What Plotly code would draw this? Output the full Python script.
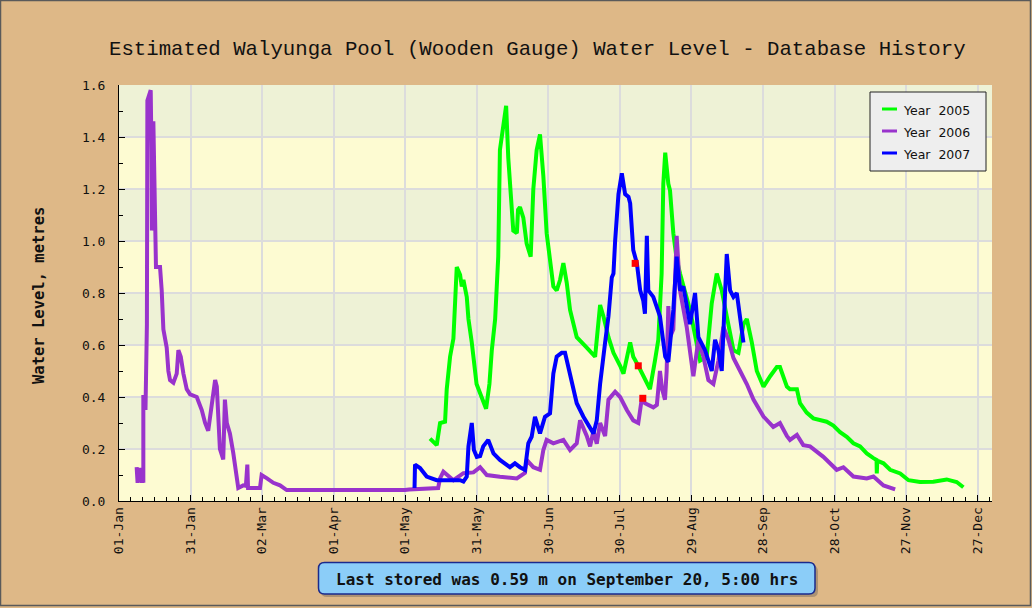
import plotly.graph_objects as go

# ---------------- data (day of year from 01-Jan, level in metres) ----------------
tick_days = [0, 30, 60, 90, 120, 150, 180, 210, 240, 270, 300, 330, 360]
tick_labels = ["01-Jan", "31-Jan", "02-Mar", "01-Apr", "01-May", "31-May", "30-Jun",
               "30-Jul", "29-Aug", "28-Sep", "28-Oct", "27-Nov", "27-Dec"]

series_names = ["Year 2005", "Year 2006", "Year 2007"]
series_colors = ["#00FF00", "#9933CC", "#0000FF"]

days_2005 = [130.4, 133.2, 134.6, 136.7, 137.4, 138.8, 140.2, 140.9, 141.6, 143.0, 143.7, 144.4,
             145.8, 146.5, 147.9, 149.9, 151.4, 153.9, 155.3, 156.3, 157.7, 159.0, 159.7, 161.4,
             162.3, 163.2, 164.0, 165.3, 166.8, 167.3, 168.1, 169.5, 170.9, 172.6, 173.7, 175.1,
             176.5, 177.9, 179.3, 180.7, 182.1, 183.5, 184.9, 186.3, 187.7, 189.1, 191.9, 196.1,
             199.6, 201.7, 203.1, 205.2, 207.3, 210.1, 211.5, 214.3, 215.6, 217.7, 220.5, 222.6,
             224.7, 226.1, 227.5, 228.2, 229.0, 230.3, 231.0, 232.4, 233.8, 235.2, 239.4, 241.5,
             243.6, 246.4, 248.5, 250.6, 252.7, 254.8, 257.6, 259.7, 261.8, 263.2, 265.3, 267.4,
             270.2, 273.0, 275.8, 277.1, 280.0, 281.3, 284.2, 285.5, 288.3, 291.1, 293.9, 296.7,
             299.5, 302.3, 305.1, 307.9, 310.7, 313.5, 316.3, 317.6, 317.7, 317.9, 320.5, 323.3,
             327.5, 331.0, 335.8, 341.4, 347.0, 351.2, 354.0]
level_2005 = [0.24, 0.215, 0.30, 0.305, 0.43, 0.555, 0.625, 0.785, 0.90, 0.87, 0.825, 0.85,
              0.785, 0.70, 0.61, 0.45, 0.41, 0.355, 0.45, 0.58, 0.70, 0.94, 1.35, 1.465,
              1.52, 1.32, 1.21, 1.04, 1.03, 1.12, 1.13, 1.09, 0.99, 0.94, 1.20, 1.35,
              1.41, 1.25, 1.03, 0.915, 0.825, 0.81, 0.85, 0.915, 0.84, 0.735, 0.63, 0.59,
              0.555, 0.754, 0.71, 0.63, 0.57, 0.52, 0.49, 0.61, 0.555, 0.52, 0.47, 0.43,
              0.54, 0.62, 0.875, 1.22, 1.34, 1.22, 1.195, 1.03, 0.93, 0.875, 0.735, 0.645,
              0.54, 0.555, 0.76, 0.875, 0.81, 0.71, 0.58, 0.57, 0.68, 0.70, 0.61, 0.50,
              0.44, 0.48, 0.515, 0.515, 0.44, 0.43, 0.43, 0.376, 0.34, 0.318, 0.31, 0.305,
              0.29, 0.265, 0.247, 0.222, 0.21, 0.183, 0.165, 0.158, 0.106, 0.155, 0.145, 0.12,
              0.106, 0.08, 0.073, 0.074, 0.083, 0.073, 0.053]

days_2006 = [7.4, 7.8, 8.8, 9.6, 10.1, 10.2, 10.2, 10.9, 11.1, 11.3, 11.7, 11.9, 13.3, 13.6,
             13.8, 14.4, 14.7, 15.1, 15.5, 17.2, 17.9, 18.6, 20.0, 20.7, 21.4, 22.8, 24.2,
             24.9, 25.9, 27.0, 28.4, 29.8, 32.6, 34.7, 36.1, 37.4, 38.4, 39.5, 40.3, 41.0,
             41.6, 42.3, 43.7, 44.0, 44.4, 45.2, 46.5, 47.9, 49.3, 50.0, 52.1, 53.2, 53.8,
             54.1, 59.1, 59.8, 61.9, 64.7, 67.5, 68.9, 70.3, 119.9, 121.6, 133.8, 134.6,
             136.0, 140.2, 144.4, 148.6, 151.4, 154.2, 159.7, 166.8, 170.2, 170.9, 173.7,
             176.5, 177.9, 179.3, 182.1, 186.3, 189.1, 191.9, 193.3, 196.1, 197.5, 198.9,
             200.3, 201.7, 203.8, 205.2, 208.0, 210.1, 212.9, 215.6, 217.7, 219.2, 220.5,
             224.0, 225.5, 226.8, 227.7, 228.9, 229.6, 230.3, 231.0, 232.4, 233.8, 235.2,
             238.0, 240.8, 242.9, 245.0, 247.1, 249.2, 251.3, 253.4, 255.5, 257.6, 260.4,
             263.2, 266.0, 270.2, 274.3, 277.1, 280.0, 281.3, 284.2, 286.9, 289.7, 295.3,
             300.9, 303.7, 307.9, 313.5, 316.3, 320.5, 325.4]
level_2006 = [0.13, 0.07, 0.127, 0.07, 0.12, 0.07, 0.40, 0.40, 0.35, 0.59, 0.68, 1.54, 1.58, 1.35,
              1.04, 1.46, 1.34, 1.04, 0.90, 0.90, 0.81, 0.66, 0.59, 0.50, 0.465, 0.455, 0.49,
              0.58, 0.555, 0.49, 0.43, 0.41, 0.40, 0.35, 0.30, 0.27, 0.34, 0.39, 0.465, 0.44,
              0.31, 0.20, 0.16, 0.27, 0.39, 0.30, 0.26, 0.185, 0.11, 0.05, 0.06, 0.058, 0.14,
              0.05, 0.05, 0.10, 0.088, 0.07, 0.06, 0.05, 0.042, 0.042, 0.044, 0.05, 0.087,
              0.113, 0.08, 0.107, 0.11, 0.13, 0.10, 0.093, 0.087, 0.108, 0.158, 0.13,
              0.12, 0.196, 0.235, 0.222, 0.235, 0.196, 0.222, 0.31, 0.25, 0.21, 0.27,
              0.22, 0.30, 0.25, 0.39, 0.42, 0.40, 0.35, 0.31, 0.30, 0.395, 0.376,
              0.36, 0.37, 0.50, 0.43, 0.39, 0.50, 0.75, 0.63, 0.66, 1.02, 0.81,
              0.67, 0.48, 0.62, 0.555, 0.465, 0.45, 0.54, 0.67, 0.62, 0.55, 0.50,
              0.45, 0.39, 0.325, 0.285, 0.30, 0.25, 0.235, 0.254, 0.215, 0.21, 0.17,
              0.12, 0.13, 0.094, 0.087, 0.094, 0.06, 0.045]

days_2007 = [123.9, 124.1, 126.2, 129.0, 133.2, 138.8, 143.0, 144.4, 145.8, 146.5, 147.9, 148.8,
             150.0, 151.4, 152.7, 154.8, 157.0, 159.7, 161.8, 163.9, 166.0, 168.1, 170.2, 171.6,
             173.0, 174.4, 176.5, 178.6, 180.7, 182.1, 183.5, 185.6, 187.0, 189.1, 191.9, 194.7,
             198.9, 200.3, 201.7, 203.8, 205.2, 206.6, 207.3, 208.0, 209.4, 210.8, 212.2, 213.6,
             214.3, 215.6, 217.1, 218.5, 219.8, 220.5, 221.3, 221.9, 224.0, 226.8, 229.0, 230.3,
             232.4, 233.8, 235.2, 236.6, 238.0, 239.4, 241.5, 242.9, 245.7, 248.5, 249.9, 251.3,
             252.7, 254.1, 254.8, 256.2, 257.6, 259.0, 260.4, 261.8]
level_2007 = [0.05, 0.14, 0.127, 0.094, 0.08, 0.08, 0.08, 0.075, 0.094, 0.21, 0.30, 0.196,
              0.17, 0.173, 0.21, 0.235, 0.183, 0.158, 0.145, 0.13, 0.145, 0.13, 0.12, 0.222,
              0.247, 0.324, 0.26, 0.324, 0.337, 0.49, 0.555, 0.57, 0.57, 0.48, 0.376, 0.324,
              0.26, 0.31, 0.45, 0.61, 0.71, 0.86, 0.875, 1.00, 1.18, 1.26, 1.18, 1.17,
              1.145, 0.965, 0.915, 0.81, 0.77, 0.72, 1.02, 0.81, 0.785, 0.71, 0.555, 0.535,
              0.735, 0.94, 0.81, 0.825, 0.76, 0.68, 0.80, 0.63, 0.58, 0.50, 0.62, 0.58,
              0.50, 0.76, 0.95, 0.81, 0.785, 0.80, 0.71, 0.61]

marker_days = [216.4, 217.7, 219.6]
marker_levels = [0.914, 0.52, 0.395]

series_days = [days_2005, days_2006, days_2007]
series_levels = [level_2005, level_2006, level_2007]

# ---------------- layout geometry ----------------
W_FIG, H_FIG = 1032, 608
ML, MR, MT, MB = 119, 40, 85, 107
PW = W_FIG - ML - MR
PH = H_FIG - MT - MB


def px(x):
    return (x - ML) / PW


def py(y):
    return (H_FIG - MB - y) / PH


TAN = "#DEB887"
YEL = "#FDFBD2"
GRN = "#EEF2D6"

fig = go.Figure()

for name, color, d, v in zip(series_names, series_colors, series_days, series_levels):
    fig.add_trace(go.Scatter(x=d, y=v, mode="lines", name=name, showlegend=False,
                             line=dict(color=color, width=4)))

fig.add_trace(go.Scatter(x=marker_days, y=marker_levels, mode="markers", showlegend=False,
                         marker=dict(symbol="square", size=7, color="#FF0000")))

shapes = []
# alternating bands
for i in range(8):
    shapes.append(dict(type="rect", xref="paper", yref="y", x0=0, x1=1,
                       y0=0.2 * i, y1=0.2 * (i + 1), fillcolor=YEL if i % 2 == 0 else GRN,
                       line=dict(width=0), layer="below"))

# outer frame
shapes.append(dict(type="rect", xref="paper", yref="paper", x0=px(0.5), x1=px(1030.5),
                   y0=py(0.5), y1=py(605.5), line=dict(color="#5A5A5A", width=1.5)))

# legend box (manual)
shapes.append(dict(type="rect", xref="paper", yref="paper", x0=px(870), x1=px(986),
                   y0=py(92), y1=py(171), fillcolor="#EEEEEE",
                   line=dict(color="#222222", width=1)))
annotations = []
leg_rows = [109, 131, 153]
for name, color, ry in zip(series_names, series_colors, leg_rows):
    shapes.append(dict(type="line", xref="paper", yref="paper", x0=px(882), x1=px(897),
                       y0=py(ry), y1=py(ry), line=dict(color=color, width=3)))
    annotations.append(dict(xref="paper", yref="paper", x=px(901), y=py(ry + 1),
                            xanchor="left", yanchor="middle", showarrow=False,
                            text=name.replace(" ", "\u00a0 "),
                            font=dict(family="DejaVu Sans", size=12.5, color="#111111")))


def rounded(x0, y0, x1, y1, r):
    rx = r / PW
    ry = r / PH
    a, b, c, d = px(x0), py(y1), px(x1), py(y0)  # paper: a<c, b<d
    return (f"M {a+rx},{b} L {c-rx},{b} Q {c},{b} {c},{b+ry} L {c},{d-ry} "
            f"Q {c},{d} {c-rx},{d} L {a+rx},{d} Q {a},{d} {a},{d-ry} L {a},{b+ry} "
            f"Q {a},{b} {a+rx},{b} Z")


# status box with shadow
shapes.append(dict(type="path", xref="paper", yref="paper",
                   path=rounded(321, 565.5, 818, 597, 6),
                   fillcolor="rgba(110,100,90,0.45)", line=dict(width=0)))
shapes.append(dict(type="path", xref="paper", yref="paper",
                   path=rounded(318.5, 562.5, 815, 594, 6),
                   fillcolor="#8BCDF8", line=dict(color="#1A2A8C", width=1.5)))

annotations.append(dict(xref="paper", yref="paper", x=px(567), y=py(579),
                        xanchor="center", yanchor="middle", showarrow=False,
                        text="Last stored was 0.59 m on September 20, 5:00 hrs",
                        font=dict(family="DejaVu Sans Mono", size=16, color="#111111",
                                  weight="bold")))

# title
annotations.append(dict(xref="paper", yref="paper", x=px(537.5), y=py(49),
                        xanchor="center", yanchor="middle", showarrow=False,
                        text="Estimated Walyunga Pool (Wooden Gauge) Water Level - Database History",
                        font=dict(family="Liberation Mono", size=20.7, color="#111111")))

# y-axis title
annotations.append(dict(xref="paper", yref="paper", x=px(39), y=py(296),
                        xanchor="center", yanchor="middle", showarrow=False, textangle=-90,
                        text="Water Level, metres",
                        font=dict(family="DejaVu Sans Mono", size=15.5, color="#111111",
                                  weight="bold")))

fig.update_layout(
    width=W_FIG, height=H_FIG,
    margin=dict(l=ML, r=MR, t=MT, b=MB, pad=0),
    paper_bgcolor=TAN, plot_bgcolor=YEL,
    shapes=shapes, annotations=annotations,
    showlegend=False,
    xaxis=dict(range=[0, 366], tickmode="array", tickvals=tick_days, ticktext=tick_labels,
               tickangle=-90, ticks="inside", ticklen=6, tickcolor="black", tickwidth=1,
               showline=True, linecolor="black", linewidth=1,
               showgrid=True, gridcolor="#DCDCDC", gridwidth=1.5, zeroline=False,
               tickfont=dict(family="DejaVu Sans Mono", size=13, color="#111111"),
               minor=dict(tickmode="linear", tick0=0, dtick=5, ticks="inside", ticklen=4,
                          tickcolor="black", showgrid=False),
               fixedrange=True),
    yaxis=dict(range=[0, 1.6], tickmode="linear", tick0=0, dtick=0.2, tickformat=".1f",
               ticks="inside", ticklen=6, tickcolor="black", tickwidth=1,
               showline=True, linecolor="black", linewidth=1,
               showgrid=True, gridcolor="#DCDCDC", gridwidth=1.5, zeroline=False,
               tickfont=dict(family="DejaVu Sans Mono", size=13, color="#111111"),
               ticklabelstandoff=10,
               minor=dict(tickmode="linear", tick0=0, dtick=0.1, ticks="inside", ticklen=4,
                          tickcolor="black", showgrid=False),
               fixedrange=True),
)

fig.write_html("out.html", config={"displayModeBar": False},
               post_script="document.body.style.margin='0';document.body.style.overflow='hidden';")
